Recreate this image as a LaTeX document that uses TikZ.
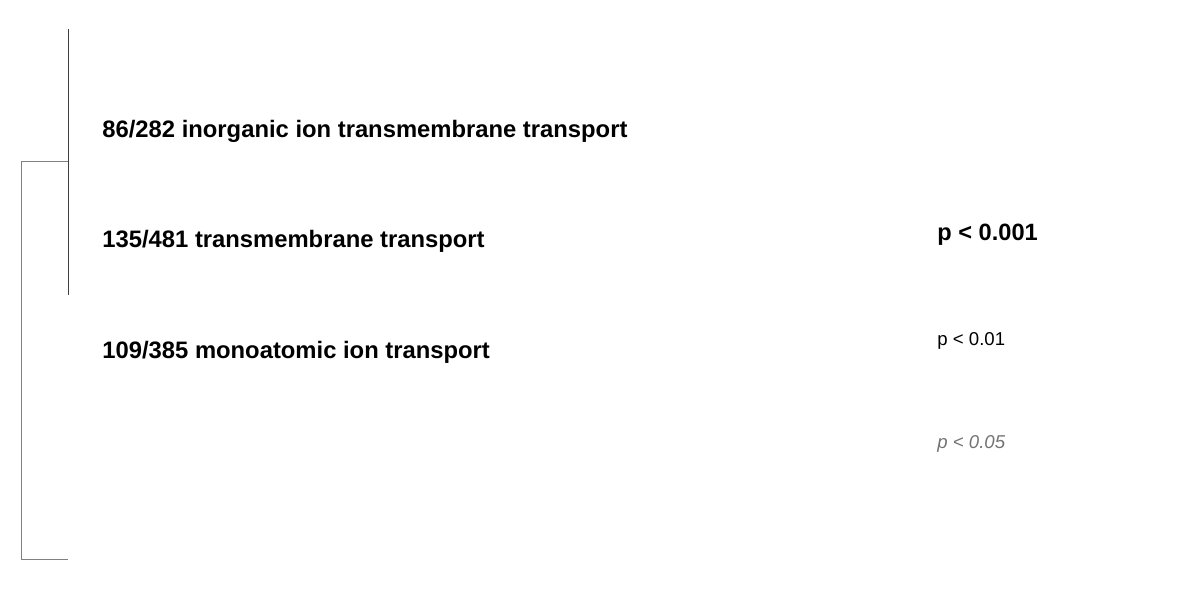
\documentclass[tikz,border=0pt]{standalone}
\usepackage{fontspec}
\setmainfont{Liberation Sans}
\begin{document}
\begin{tikzpicture}[x=0.5pt,y=-0.5pt,
  lbl/.style={anchor=base west,inner sep=0pt,font=\fontsize{11.9}{14}\selectfont\bfseries},
  sigA/.style={anchor=base west,inner sep=0pt,font=\fontsize{11.8}{14}\selectfont\bfseries},
  sigB/.style={anchor=base west,inner sep=0pt,font=\fontsize{9.3}{11}\selectfont},
  sigC/.style={anchor=base west,inner sep=0pt,font=\fontsize{9.3}{11}\selectfont\itshape,text=black!55},
  inner/.style={draw=black!75,line width=0.5pt},
  outer/.style={draw=black!50,line width=0.5pt}]
\useasboundingbox (0,0) rectangle (1200,600);
\coordinate (i1) at (68,29);
\coordinate (i2) at (68,295);
\coordinate (o1) at (68,161);
\coordinate (o2) at (21,161);
\coordinate (o3) at (21,559);
\coordinate (o4) at (68,559);
\draw[inner] (i1) -- (i2);
\draw[outer] (o1) -- (o2) -- (o3) -- (o4);
\node[lbl] (t1) at (102,137) {86/282 inorganic ion transmembrane transport};
\node[lbl] (t2) at (102,247) {135/481 transmembrane transport};
\node[lbl] (t3) at (102,358) {109/385 monoatomic ion transport};
\node[sigA] (s1) at (937,240) {p < 0.001};
\node[sigB] (s2) at (937,345) {p < 0.01};
\node[sigC] (s3) at (937,448) {p < 0.05};
\end{tikzpicture}
\end{document}
